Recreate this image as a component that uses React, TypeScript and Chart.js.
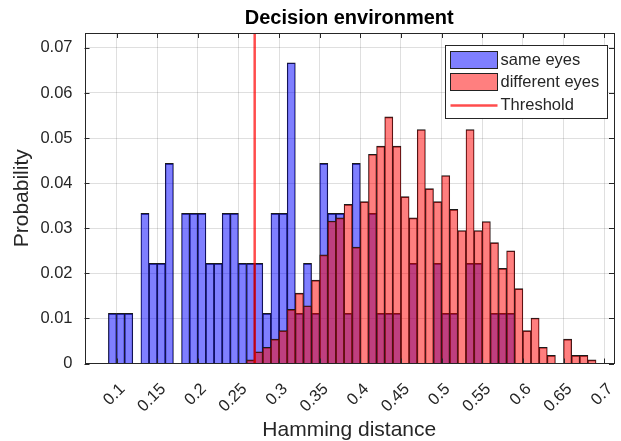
import React, { useEffect, useRef } from "react";
import { Chart, registerables } from "chart.js";

Chart.register(...registerables);

// Histogram bins (width 0.01), given by their centres
const BIN_CENTERS = [
  0.095, 0.105, 0.115, 0.125, 0.135, 0.145, 0.155, 0.165, 0.175, 0.185,
  0.195, 0.205, 0.215, 0.225, 0.235, 0.245, 0.255, 0.265, 0.275, 0.285,
  0.295, 0.305, 0.315, 0.325, 0.335, 0.345, 0.355, 0.365, 0.375, 0.385,
  0.395, 0.405, 0.415, 0.425, 0.435, 0.445, 0.455, 0.465, 0.475, 0.485,
  0.495, 0.505, 0.515, 0.525, 0.535, 0.545, 0.555, 0.565, 0.575, 0.585,
  0.595, 0.605, 0.615, 0.625, 0.635, 0.645, 0.655, 0.665, 0.675, 0.685,
];

const SAME_EYES = [
  0.0111, 0.0111, 0.0111, 0, 0.0333, 0.0222, 0.0222, 0.0444, 0, 0.0333,
  0.0333, 0.0333, 0.0222, 0.0222, 0.0333, 0.0333, 0.0222, 0.0222, 0.0222, 0.0111,
  0.0333, 0.0333, 0.0667, 0.0111, 0.0222, 0.0111, 0.0444, 0.0333, 0.0333, 0.0111,
  0.0444, 0, 0.0333, 0.0111, 0.0111, 0.0111, 0, 0.0222, 0, 0,
  0.0222, 0.0111, 0.0111, 0, 0.0222, 0.0222, 0, 0.0111, 0.0111, 0.0111,
  0, 0, 0, 0, 0, 0, 0, 0, 0, 0,
];

const DIFFERENT_EYES = [
  0, 0, 0, 0, 0, 0, 0, 0, 0, 0,
  0, 0, 0, 0, 0, 0, 0, 0.0008, 0.0026, 0.0036,
  0.0054, 0.0073, 0.012, 0.0156, 0.0128, 0.0185, 0.0241, 0.0316, 0.0323, 0.0353,
  0.0258, 0.0359, 0.0464, 0.0482, 0.0547, 0.0482, 0.037, 0.0323, 0.0519, 0.0388,
  0.0359, 0.0417, 0.0342, 0.0295, 0.0519, 0.0295, 0.0315, 0.0268, 0.0211, 0.025,
  0.0166, 0.0073, 0.0101, 0.0036, 0.0018, 0, 0.0054, 0.0018, 0.0018, 0.0008,
];

const THRESHOLD = 0.27;

const SERIES_LABELS = ["same eyes", "different eyes", "Threshold"];
const X_TICKS = [0.1, 0.15, 0.2, 0.25, 0.3, 0.35, 0.4, 0.45, 0.5, 0.55, 0.6, 0.65, 0.7];
const X_TICK_LABELS = ["0.1", "0.15", "0.2", "0.25", "0.3", "0.35", "0.4", "0.45", "0.5", "0.55", "0.6", "0.65", "0.7"];
const Y_TICKS = [0, 0.01, 0.02, 0.03, 0.04, 0.05, 0.06, 0.07];
const Y_TICK_LABELS = ["0", "0.01", "0.02", "0.03", "0.04", "0.05", "0.06", "0.07"];
const X_MIN = 0.0606;
const X_MAX = 0.7121;
const Y_MIN = 0;
const Y_MAX = 0.0733;

const FONT = "'Liberation Sans', Arial, Helvetica, sans-serif";
const AXIS_COLOR = "#262626";

const matlabPlugin = {
  id: "matlabBox",
  afterDraw(chart: any) {
    const { ctx, chartArea: a, scales } = chart;
    const xs = scales.x;
    const ys = scales.y;
    ctx.save();
    ctx.strokeStyle = AXIS_COLOR;
    ctx.lineWidth = 1;
    ctx.beginPath();
    for (const t of xs.ticks) {
      const px = Math.round(xs.getPixelForValue(t.value)) + 0.5;
      ctx.moveTo(px, a.bottom);
      ctx.lineTo(px, a.bottom - 5);
      ctx.moveTo(px, a.top);
      ctx.lineTo(px, a.top + 5);
    }
    for (const t of ys.ticks) {
      const py = Math.round(ys.getPixelForValue(t.value)) + 0.5;
      ctx.moveTo(a.left, py);
      ctx.lineTo(a.left + 5, py);
      ctx.moveTo(a.right, py);
      ctx.lineTo(a.right - 5, py);
    }
    ctx.stroke();
    ctx.strokeRect(Math.round(a.left) + 0.5, Math.round(a.top) + 0.5, Math.round(a.right - a.left) - 1, Math.round(a.bottom - a.top) - 1);

    // Legend box (MATLAB style, inside the axes, top right)
    const ds = chart.data.datasets;
    const bw = 162;
    const bh = 73;
    const bx = Math.round(a.right) - 7 - bw + 0.5;
    const by = Math.round(a.top) + 12 + 0.5;
    ctx.fillStyle = "#ffffff";
    ctx.fillRect(bx, by, bw, bh);
    ctx.strokeStyle = AXIS_COLOR;
    ctx.lineWidth = 1;
    ctx.strokeRect(bx, by, bw, bh);
    const px0 = bx + 5;
    const pw = 47;
    const rows = [by + 14, by + 36, by + 59];
    ctx.font = `16.5px ${FONT}`;
    ctx.textBaseline = "middle";
    ctx.textAlign = "left";
    for (let i = 0; i < 3; i++) {
      const cy = rows[i];
      if (i < 2) {
        ctx.fillStyle = ds[i].backgroundColor;
        ctx.fillRect(px0, cy - 8, pw, 17);
        ctx.strokeStyle = "#222";
        ctx.strokeRect(px0, cy - 8, pw, 17);
      } else {
        ctx.strokeStyle = ds[i].borderColor;
        ctx.lineWidth = 2.5;
        ctx.beginPath();
        ctx.moveTo(px0, Math.round(cy) + 0.5);
        ctx.lineTo(px0 + pw, Math.round(cy) + 0.5);
        ctx.stroke();
        ctx.lineWidth = 1;
      }
      ctx.fillStyle = AXIS_COLOR;
      ctx.fillText(ds[i].label, px0 + pw + 3, cy + 1);
    }
    ctx.restore();
  },
};

export default function App() {
  const ref = useRef<HTMLCanvasElement>(null);

  useEffect(() => {
    document.body.style.margin = "0";
    const canvas = ref.current;
    if (!canvas) return;
    const toPoints = (vals: number[]) =>
      BIN_CENTERS.map((x, i) => ({ x, y: vals[i] > 0 ? vals[i] : null }));

    const barEdge = { top: 1, left: 0.6, right: 0.6, bottom: 0 };

    const chart = new Chart(canvas, {
      type: "bar",
      data: {
        datasets: [
          {
            type: "bar",
            label: SERIES_LABELS[0],
            data: toPoints(SAME_EYES) as any,
            backgroundColor: "rgba(0,0,255,0.5)",
            borderColor: "#1a1a1a",
            borderWidth: barEdge,
            grouped: false,
            barPercentage: 1,
            categoryPercentage: 1,
            borderSkipped: false,
            order: 2,
          } as any,
          {
            type: "bar",
            label: SERIES_LABELS[1],
            data: toPoints(DIFFERENT_EYES) as any,
            backgroundColor: "rgba(255,0,0,0.5)",
            borderColor: "#1a1a1a",
            borderWidth: barEdge,
            grouped: false,
            barPercentage: 1,
            categoryPercentage: 1,
            borderSkipped: false,
            order: 1,
          } as any,
          {
            type: "line",
            label: SERIES_LABELS[2],
            data: [
              { x: THRESHOLD, y: Y_MIN },
              { x: THRESHOLD, y: Y_MAX },
            ],
            borderColor: "rgba(255,0,0,0.7)",
            borderWidth: 2.5,
            pointRadius: 0,
            fill: false,
            order: 0,
          } as any,
        ],
      },
      options: {
        responsive: false,
        animation: false,
        layout: { padding: { left: 0, right: 7, top: 0, bottom: 0 } },
        plugins: {
          legend: { display: false },
          tooltip: { enabled: false },
          title: {
            display: true,
            fullSize: false,
            text: "Decision environment",
            color: "#000000",
            font: { family: FONT, size: 20, weight: "bold" },
            padding: { top: 6, bottom: 3 },
          },
        },
        scales: {
          x: {
            type: "linear",
            min: X_MIN,
            max: X_MAX,
            offset: false,
            afterBuildTicks: (scale: any) => {
              scale.ticks = X_TICKS.map((v) => ({ value: v }));
            },
            afterFit: (scale: any) => {
              scale.height = 77.5;
              scale.paddingLeft = 0;
              scale.paddingRight = 0;
            },
            grid: {
              offset: false,
              color: "rgba(38,38,38,0.15)",
              drawTicks: false,
            },
            border: { display: false },
            ticks: {
              autoSkip: false,
              minRotation: 45,
              maxRotation: 45,
              padding: 16,
              labelOffset: 6,
              color: AXIS_COLOR,
              font: { family: FONT, size: 16.5 },
              callback: (v: any) => {
                const i = X_TICKS.indexOf(Number(v));
                return i >= 0 ? X_TICK_LABELS[i] : "";
              },
            },
            title: {
              display: true,
              text: "Hamming distance",
              color: AXIS_COLOR,
              font: { family: FONT, size: 21 },
              padding: { top: 0, bottom: -2 },
            },
          },
          y: {
            type: "linear",
            min: Y_MIN,
            max: Y_MAX,
            afterBuildTicks: (scale: any) => {
              scale.ticks = Y_TICKS.map((v) => ({ value: v }));
            },
            afterFit: (scale: any) => {
              scale.width = 84.5;
              scale.paddingTop = 0;
              scale.paddingBottom = 0;
            },
            grid: {
              color: "rgba(38,38,38,0.15)",
              drawTicks: false,
            },
            border: { display: false },
            ticks: {
              padding: 12,
              color: AXIS_COLOR,
              font: { family: FONT, size: 16.5 },
              callback: (v: any) => {
                const i = Y_TICKS.indexOf(Number(v));
                return i >= 0 ? Y_TICK_LABELS[i] : "";
              },
            },
            title: {
              display: true,
              text: "Probability",
              color: AXIS_COLOR,
              font: { family: FONT, size: 21 },
              padding: { top: 10, bottom: 0 },
            },
          },
        },
      },
      plugins: [matlabPlugin],
    });

    return () => chart.destroy();
  }, []);

  return (
    <div style={{ width: 621, height: 441, overflow: "hidden" }}>
      <canvas ref={ref} width={621} height={441} style={{ display: "block" }} />
    </div>
  );
}
